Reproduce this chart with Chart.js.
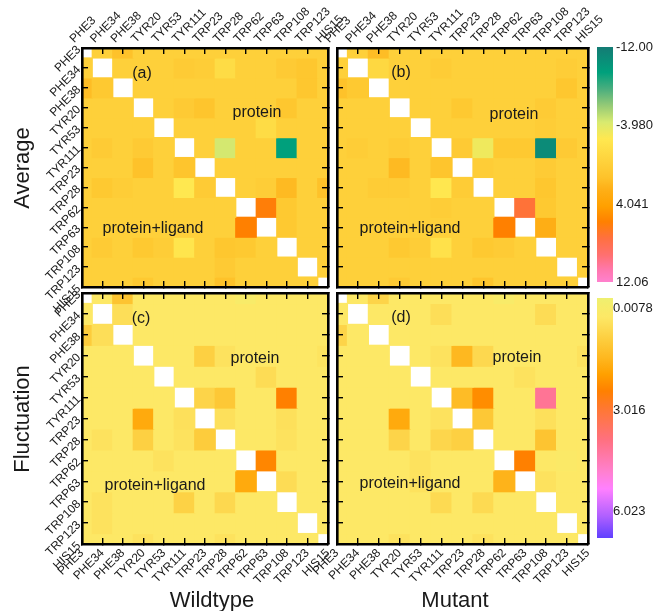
<!DOCTYPE html>
<html>
<head>
<meta charset="utf-8">
<script src="https://cdn.jsdelivr.net/npm/chart.js@4.4.1/dist/chart.umd.min.js"></script>
<style>
  body { margin: 0; background: #fff; }
  #wrap { position: relative; width: 655px; height: 611px; overflow: hidden;
          font-family: "Liberation Sans", Arial, sans-serif; color: #1a1a1a; }
  #wrap canvas { position: absolute; left: 0; top: 0; }
  .t { position: absolute; white-space: nowrap; line-height: 1; transform: translate(-50%, -50%); }
  .big { font-size: 22px; }
  .ann { font-size: 16px; }
  .rot { transform: translate(-50%, -50%) rotate(-90deg); }
  .cb { position: absolute; width: 16px; }
  .cbl { position: absolute; font-size: 13px; line-height: 1; transform: translateY(-50%); }
</style>
</head>
<body>
<div id="wrap">
  <canvas id="pa" width="655" height="611"></canvas>
  <canvas id="pb" width="655" height="611"></canvas>
  <canvas id="pc" width="655" height="611"></canvas>
  <canvas id="pd" width="655" height="611"></canvas>

  <div class="t big rot" style="left:22px;top:168px">Average</div>
  <div class="t big rot" style="left:22px;top:419px">Fluctuation</div>
  <div class="t big" style="left:212px;top:600px">Wildtype</div>
  <div class="t big" style="left:455px;top:600px">Mutant</div>

  <div class="t ann" style="left:142px;top:73px">(a)</div>
  <div class="t ann" style="left:257px;top:112px">protein</div>
  <div class="t ann" style="left:153px;top:228px">protein+ligand</div>
  <div class="t ann" style="left:401px;top:72px">(b)</div>
  <div class="t ann" style="left:514px;top:114px">protein</div>
  <div class="t ann" style="left:410px;top:228px">protein+ligand</div>
  <div class="t ann" style="left:141px;top:318px">(c)</div>
  <div class="t ann" style="left:255px;top:358px">protein</div>
  <div class="t ann" style="left:155px;top:485px">protein+ligand</div>
  <div class="t ann" style="left:401px;top:317px">(d)</div>
  <div class="t ann" style="left:517px;top:357px">protein</div>
  <div class="t ann" style="left:410px;top:483px">protein+ligand</div>
</div>
<script>
// residues along both axes of every panel
const residues = ['PHE3', 'PHE34', 'PHE38', 'TYR20', 'TYR53', 'TYR111', 'TRP23',
                  'TRP28', 'TRP62', 'TRP63', 'TRP108', 'TRP123', 'HIS15'];

// (a) average, wildtype  (row = y residue, col = x residue, null = diagonal)
const avgWildtype = [
  [null, 0, 1.5, 0, 0, 0, 0, 0, 0, 0, 0, 0, 0],
  [0, null, 0, 0, 0, 0.5, 0.3, -1.2, 0, 0, 0.6, 1.0, 0],
  [1.8, 0.8, null, 0, 0, 0, 0, 0, 0, 0, 0, 1.0, 0],
  [0, 0, 0, null, 0, 0.6, 1.2, 0, 0, 0, 1.0, 0, 0],
  [0, 0, 0, 0, null, 0, 0, 0, 0, -1.2, 0, 0, 0],
  [0, 0.5, 0, 0.6, 0, null, 0, -4.3, 0, 0, -9.3, 0, 0],
  [0, 0, 0, 1.5, 0, 1.2, null, 0, 0, 0, 0, 0, 0],
  [0, 0.8, 0.3, 0, 0, -2.5, 0.5, null, 0, 0.3, 2.0, 0, 1.5],
  [0, 0, 0, 0, 0, 0, 0, 0, null, 6.2, 0.8, 0, 0],
  [0, 0, 0, 0, 0, 0, 0, 0, 6.0, null, 0.8, 0, 0],
  [0, 0.5, 0, 0.8, 0.3, -2.2, 0, 1.0, 0.8, 0, null, 0, 0],
  [0, 0, 0, 0, 0, 0, 0, 0.6, 0, 0, 0, null, 0],
  [0, 0, 0, 0.8, 0, 0, 0, 1.5, 0, 0, 0, 0, null]
];

// (b) average, mutant
const avgMutant = [
  [null, 0, 1.8, 0, 0, 0, 0, 0, 0, 0, 0, 0, 0],
  [0, null, -0.8, 0, 0, 0.4, 0, 0, 0, 0, 0, 0.3, 0],
  [1.5, 0.8, null, 0, 0, 0, 0, 0, 0, 0, 0, 1.0, 0],
  [0, 0, 0, null, 0, 0, 0.8, 0, 0, 0, 0.5, 0, 0],
  [0, 0, 0, 0, null, 0, 0, 0, 0, 0, 0.3, 0, 0],
  [0, 0.3, 0, 0.4, 0, null, 0.6, -3.2, 0.8, 0.8, -10.8, 0.6, 0],
  [0, 0, 0, 2.0, 0, 1.2, null, 0.3, 0, 0, 0.5, 0, 0],
  [0, 0, 0.4, 0.4, 0, -2.4, 0.4, null, 0, 0, 1.0, 0, 0],
  [0, 0, 0, 0, 0, 0.3, 0, 0, null, 7.5, 0.8, 0, 0],
  [0, 0, 0, 0, 0, 0, 0, 0, 6.0, null, 2.8, 0, 0],
  [0, 0, 0, 0.8, 0.3, -1.8, 0, 0.8, 0.5, 0, null, 0, 0],
  [0, 0, 0, 0, 0, 0, 0, 0, 0, 0, 0, null, 0],
  [0, 0, 0, 0.6, 0, 0, 0, 1.2, 0, 0, 0, 0, null]
];

// (c) fluctuation, wildtype
const flucWildtype = [
  [null, .3, 1.2, .3, .3, .3, .3, .3, .1, .3, .3, .3, .3],
  [.3, null, .55, .3, .3, .3, .3, .3, .3, .3, .3, .3, .3],
  [1.0, .55, null, .3, .3, .3, .3, .3, .3, .3, .3, .3, .3],
  [.3, .3, .3, null, .3, .3, .9, .45, .3, .3, .3, .3, .4],
  [.3, .3, .3, .3, null, .3, .3, .3, .3, .6, .3, .3, .3],
  [.3, .3, .3, .3, .3, null, .8, 1.1, .3, .3, 2.5, .3, .3],
  [.3, .3, .3, 1.8, .3, .5, null, .5, .3, .3, .5, .3, .3],
  [.3, .45, .3, .9, .3, .45, 1.0, null, .3, .3, .45, .3, .3],
  [.3, .3, .3, .3, .45, .3, .3, .3, null, 2.4, .3, .3, .3],
  [.3, .3, .3, .3, .3, .3, .3, .3, 1.8, null, .6, .3, .3],
  [.3, .45, .3, .3, .3, .85, .3, .7, .3, .3, null, .3, .3],
  [.3, .45, .3, .3, .3, .3, .3, .3, .3, .3, .3, null, .3],
  [.3, .3, .3, .45, .3, .3, .3, .45, .3, .3, .3, .3, null]
];

// (d) fluctuation, mutant
const flucMutant = [
  [null, .3, .8, .3, .3, .3, .3, .3, .1, .3, .3, .3, .3],
  [.3, null, .3, .3, .3, .55, .3, .3, .3, .3, .6, .3, .3],
  [.8, .3, null, .3, .3, .3, .3, .3, .3, .3, .3, .3, .3],
  [.3, .3, .3, null, .3, .45, 1.5, .7, .3, .3, .3, .3, .45],
  [.3, .3, .3, .3, null, .3, .3, .3, .3, .45, .3, .3, .3],
  [.3, .3, .3, .3, .3, null, 1.4, 2.3, .3, .3, 4.2, .3, .3],
  [.3, .3, .3, 1.8, .3, .45, null, 1.1, .3, .3, .5, .3, .3],
  [.3, .3, .3, .8, .3, .75, .9, null, .3, .3, 1.2, .3, .3],
  [.3, .3, .3, .3, .45, .3, .3, .3, null, 2.5, .3, .2, .3],
  [.3, .3, .3, .3, .45, .3, .3, .3, 1.6, null, .45, .3, .3],
  [.3, .3, .3, .3, .3, .65, .3, .65, .3, .3, null, .3, .3],
  [.3, .3, .3, .3, .3, .3, .3, .3, .3, .3, .3, null, .3],
  [.3, .3, .3, .45, .3, .3, .3, .45, .3, .3, .3, .3, null]
];

// colour bar tick labels
const avgBarTicks = [-12.00, -3.980, 4.041, 12.06];
const avgBarLabels = ['-12.00', '-3.980', '4.041', '12.06'];
const flucBarTicks = [0.0078, 3.016, 6.023];
const flucBarLabels = ['0.0078', '3.016', '6.023'];

// colour maps (value, colour)
const avgStops = [
  [-12, '#157a74'], [-9.3, '#00a07c'], [-7.6, '#4aae7e'], [-5.9, '#95ca76'],
  [-4.2, '#d8ea70'], [-2.5, '#ffe850'], [0, '#fed03a'], [1.5, '#fec22a'],
  [2.6, '#feb018'], [4.4, '#ffa000'], [6, '#ff8000'], [7.7, '#ff7040'],
  [9.4, '#ff7070'], [11, '#ff78b0'], [12.06, '#ff80cc']
];
const flucStops = [
  [-0.26, '#eef070'], [0, '#f6ec6a'], [0.3, '#fde866'], [0.6, '#fddc55'],
  [1.0, '#fdcc3c'], [1.5, '#feb820'], [2, '#ffa000'], [2.5, '#ff8000'],
  [3.0, '#ff7830'], [3.95, '#ff7080'], [4.9, '#ff80d0'], [5.4, '#ff80ff'],
  [6.2, '#b060ff'], [6.85, '#6040ff']
];

const W = 655, H = 611;

function hexRgb(h) {
  return [parseInt(h.slice(1, 3), 16), parseInt(h.slice(3, 5), 16), parseInt(h.slice(5, 7), 16)];
}

function colorAt(stops, v) {
  if (v <= stops[0][0]) return stops[0][1];
  for (let k = 1; k < stops.length; k++) {
    if (v <= stops[k][0]) {
      const [v0, c0] = stops[k - 1];
      const [v1, c1] = stops[k];
      const t = (v - v0) / (v1 - v0);
      const a = hexRgb(c0), b = hexRgb(c1);
      return 'rgb(' + a.map((x, n) => Math.round(x + (b[n] - x) * t)).join(',') + ')';
    }
  }
  return stops[stops.length - 1][1];
}

const tickFont = { family: "'Liberation Sans', Arial, sans-serif", size: 12 };

// each axis box is forced to fill the space between the frame and the canvas edge
function makeAxis(position, size, showLabels, reverse, padding) {
  return {
    type: 'linear',
    position: position,
    min: 0,
    max: residues.length - 1,
    reverse: reverse,
    offset: false,
    afterFit: s => { if (s.isHorizontal()) s.height = size; else s.width = size; },
    grid: { display: true, offset: false, drawOnChartArea: false, drawTicks: true,
            tickLength: -6, color: '#000', lineWidth: 1.4, z: 1 },
    border: { display: true, color: '#000', width: 2.6, z: 2 },
    ticks: {
      display: showLabels,
      stepSize: 1,
      autoSkip: false,
      minRotation: 45,
      maxRotation: 45,
      padding: padding,
      color: '#1a1a1a',
      font: tickFont,
      callback: v => residues[v]
    }
  };
}

function heatmap(id, matrix, stops, box, labels) {
  const [l, t, r, b] = box;
  const datasets = matrix.map((row, j) => ({
    data: row.map((v, i) => ({ x: i, y: [j - 0.5, j + 0.5], v: v })).filter(p => p.v !== null),
    backgroundColor: c => (c.raw ? colorAt(stops, c.raw.v) : '#fff'),
    xAxisID: 'xt',
    yAxisID: 'yl',
    grouped: false,
    barPercentage: 1,
    categoryPercentage: 1,
    borderWidth: 0,
    inflateAmount: 0.6,
    clip: 0
  }));
  new Chart(document.getElementById(id), {
    type: 'bar',
    data: { datasets: datasets },
    options: {
      responsive: false,
      animation: false,
      devicePixelRatio: 1,
      events: [],
      layout: { padding: 0 },
      plugins: { legend: { display: false }, tooltip: { enabled: false } },
      scales: {
        xt: makeAxis('top', t, labels.top, false, 8),
        xb: makeAxis('bottom', H - b, labels.bottom, false, 8),
        yl: makeAxis('left', l, labels.left, true, 9),
        yr: makeAxis('right', W - r, false, true, 9)
      }
    }
  });
}

heatmap('pa', avgWildtype, avgStops, [82, 48, 328, 287], { top: true, bottom: false, left: true });
heatmap('pb', avgMutant, avgStops, [337, 48, 588, 287], { top: true, bottom: false, left: false });
heatmap('pc', flucWildtype, flucStops, [82, 293, 328, 544], { top: false, bottom: true, left: true });
heatmap('pd', flucMutant, flucStops, [337, 293, 588, 544], { top: false, bottom: true, left: false });

// colour bars
function colorBar(stops, top, height, yOf, ticks, tickLabels, labelLeft) {
  const wrap = document.getElementById('wrap');
  const bar = document.createElement('div');
  bar.className = 'cb';
  bar.style.left = '597px';
  bar.style.top = top + 'px';
  bar.style.height = height + 'px';
  const parts = stops.map(s => s[1] + ' ' + ((yOf(s[0]) - top) / height * 100).toFixed(2) + '%');
  bar.style.background = 'linear-gradient(to bottom, ' + parts.join(', ') + ')';
  wrap.appendChild(bar);
  ticks.forEach((v, k) => {
    const el = document.createElement('div');
    el.className = 'cbl';
    el.style.left = labelLeft + 'px';
    el.style.top = yOf(v) + 'px';
    el.textContent = tickLabels[k];
    wrap.appendChild(el);
  });
}

colorBar(avgStops, 47, 235, v => 47 + (v + 12) / 24.06 * 235 - 1, avgBarTicks, avgBarLabels, 616);
colorBar(flucStops, 298, 240, v => 307 + (v - 0.0078) * 203 / 6.0152, flucBarTicks, flucBarLabels, 613);
</script>
</body>
</html>
